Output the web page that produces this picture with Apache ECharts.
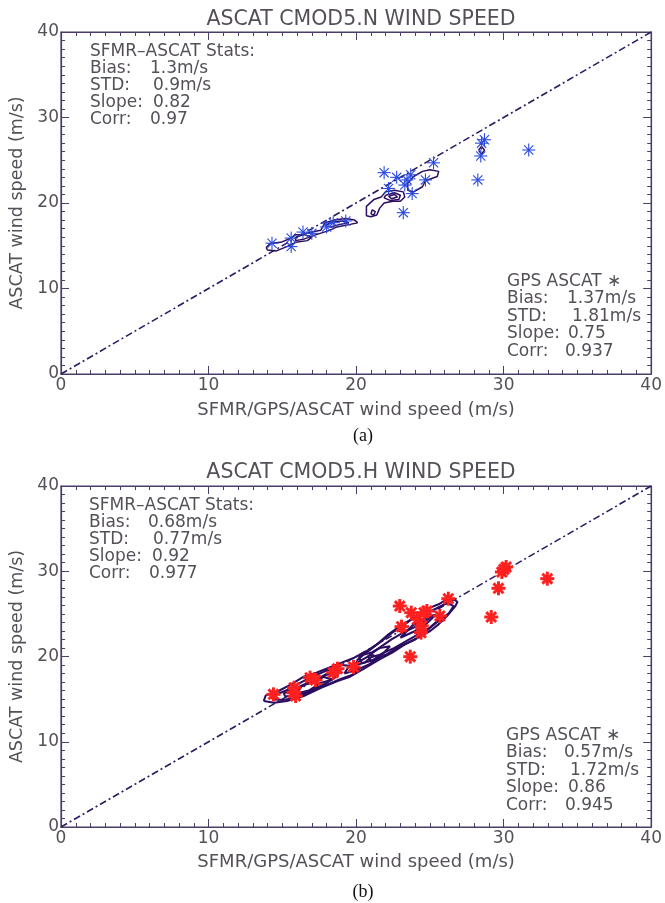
<!DOCTYPE html>
<html><head><meta charset="utf-8">
<script src="https://cdn.jsdelivr.net/npm/echarts@6/dist/echarts.min.js"></script>
<style>html,body{margin:0;padding:0;background:#fff}#c{width:665px;height:903px}</style>
</head><body><div id="c"></div>
<script>
// ---- data ----
const titles = ['ASCAT CMOD5.N WIND SPEED', 'ASCAT CMOD5.H WIND SPEED'];
const xAxisName = 'SFMR/GPS/ASCAT wind speed (m/s)';
const yAxisName = 'ASCAT wind speed (m/s)';
const captions = ['(a)', '(b)'];
const axisMin = 0, axisMax = 40, axisStep = 10;
const oneToOne = [[0, 0], [40, 40]];

const gpsStarsN = [[14.3,15.3],[15.6,14.9],[15.6,15.9],[16.4,16.6],[17.0,16.45],[18.0,17.2],[18.45,17.7],[19.3,17.9],
  [21.9,23.55],[22.2,21.7],[22.75,23.0],[23.2,18.87],[23.45,22.7],[23.7,23.3],[23.8,21.1],[23.3,22.1],[24.7,22.7],
  [25.25,24.7],[28.25,22.7],[28.45,25.5],[28.5,27.0],[28.7,27.4],[31.7,26.2]];
const gpsStarsH = [[14.4,15.56],[15.75,15.76],[15.8,16.34],[15.9,15.37],[16.88,17.52],[17.25,17.24],[18.45,18.1],
  [18.74,18.57],[19.83,18.77],[22.96,25.92],[23.08,23.5],[23.67,19.98],[23.74,25.14],[24.17,24.36],[24.4,22.8],
  [24.45,23.58],[24.6,25.14],[24.8,25.34],[25.68,24.75],[26.25,26.78],[29.16,24.63],[29.65,28.0],[29.88,29.91],
  [30.02,30.22],[30.17,30.5],[32.96,29.13]];

const contoursN = [
  [[13.9,14.8],[14.2,15.3],[14.9,15.4],[15.6,15.9],[15.9,16.3],[16.5,16.3],[17.0,16.0],[16.7,15.6],[15.9,15.4],[15.3,14.9],[14.6,14.4],[14.0,14.5]],
  [[15.9,16.0],[16.7,16.5],[17.6,16.8],[17.9,17.7],[18.5,18.0],[19.3,18.2],[19.9,18.0],[20.1,17.7],[19.6,17.5],[18.7,17.2],[18.2,16.8],[17.3,16.3],[16.5,15.8],[15.9,15.6]],
  [[17.9,17.4],[18.5,17.8],[19.2,17.9],[19.5,17.7],[18.9,17.5],[18.3,17.2]],
  [[20.7,18.8],[20.7,19.6],[21.2,20.4],[21.7,20.7],[22.0,21.3],[22.6,21.5],[23.2,21.3],[23.3,20.7],[23.0,20.2],[22.5,20.2],[21.9,20.0],[21.6,19.4],[21.4,18.6],[21.0,18.4],[20.7,18.5]],
  [[21.0,18.7],[21.1,19.2],[21.3,19.0],[21.2,18.6]],
  [[22.0,20.9],[22.6,21.2],[23.0,20.9],[22.9,20.4],[22.3,20.3],[21.9,20.6]],
  [[22.2,20.8],[22.6,21.0],[22.8,20.7],[22.4,20.5]],
  [[23.9,23.1],[24.5,23.7],[25.0,23.9],[25.6,23.7],[25.5,23.1],[24.7,22.6],[24.5,21.9],[23.9,21.3],[23.5,21.5],[23.5,22.3]],
  [[28.3,26.2],[28.5,26.6],[28.7,26.2],[28.5,25.7]]
];
const contoursH = [
  [[13.74,14.78],[14.45,14.58],[15.31,14.78],[16.45,15.37],[17.59,16.3],[18.74,17.13],[19.59,17.63],[20.45,18.5],[21.59,19.67],
   [22.45,20.45],[23.31,21.43],[24.17,22.2],[25.02,22.99],[25.59,23.77],[26.16,24.75],[26.73,25.92],[26.87,26.39],
   [26.59,26.78],[26.16,26.71],[25.59,26.12],[24.73,25.53],[24.17,24.95],[23.31,23.77],[22.45,22.8],[21.59,21.63],
   [20.74,20.65],[19.88,19.86],[19.02,19.28],[18.16,18.69],[17.31,18.1],[16.45,17.63],[15.6,16.73],[14.74,15.95],[13.88,15.44]],
  [[14.3,15.0],[15.0,14.9],[15.8,15.1],[16.6,15.6],[17.4,16.4],[18.2,16.8],[19.0,17.4],[19.8,17.9],[20.2,18.6],[19.6,18.9],
   [19.0,19.0],[18.4,18.6],[17.8,18.2],[17.0,17.6],[16.3,17.0],[15.5,16.2],[14.8,15.7],[14.4,15.4]],
  [[20.4,19.2],[21.2,19.6],[21.8,20.4],[22.6,21.0],[23.4,21.8],[24.2,22.6],[24.9,23.2],[25.6,24.2],[26.3,25.1],[26.6,25.9],
   [26.2,26.3],[25.4,25.6],[24.6,25.0],[23.8,24.4],[23.0,23.6],[22.2,22.6],[21.4,21.4],[20.8,20.6],[20.2,19.9]],
  [[15.2,15.3],[16.0,15.4],[17.0,16.0],[18.0,16.9],[18.8,17.8],[18.2,18.0],[17.4,17.4],[16.6,16.8],[15.8,16.2],[15.1,15.7]],
  [[21.0,19.5],[22.0,20.2],[23.0,21.2],[24.0,22.0],[25.0,23.4],[25.8,24.6],[25.2,24.8],[24.4,23.8],[23.4,23.0],[22.4,22.0],[21.4,20.8],[20.8,20.0]],
  [[19.2,18.0],[20.0,18.4],[20.8,19.0],[21.6,19.9],[21.0,20.2],[20.2,19.4],[19.5,18.8]],
  [[23.0,22.2],[24.0,23.0],[24.8,23.9],[25.4,24.9],[24.8,24.6],[23.8,23.6]],
  [[20.0,19.0],[20.6,19.3],[21.0,19.9],[21.8,20.3],[22.3,21.2],[21.6,21.0],[21.1,20.5],[20.5,20.2],[20.1,19.6]],
  [[16.0,15.7],[16.8,16.0],[17.6,16.9],[18.4,17.3],[17.8,17.6],[17.0,17.0],[16.3,16.5]]
];

const statLabels = ['Bias:', 'STD:', 'Slope:', 'Corr:'];
const sfmrStatsN = ['1.3m/s', '0.9m/s', '0.82', '0.97'];
const gpsStatsN = ['1.37m/s', '1.81m/s', '0.75', '0.937'];
const sfmrStatsH = ['0.68m/s', '0.77m/s', '0.92', '0.977'];
const gpsStatsH = ['0.57m/s', '1.72m/s', '0.86', '0.945'];
const sfmrHeader = 'SFMR\u2013ASCAT Stats:';
const gpsHeader = 'GPS ASCAT \u2217';

// ---- styles ----
const FONT = 'DejaVu Sans';
const TXT = '#555058';
const AX = '#4a3e68';
const LINEC = '#2e1a62';
const CONT = '#2c0e60';

const chart = echarts.init(document.getElementById('c'));
const grids = [
  {left: 61, top: 32, width: 594, height: 342, show: true, borderColor: AX, borderWidth: 1.2, backgroundColor: 'transparent'},
  {left: 61, top: 486, width: 594, height: 341, show: true, borderColor: AX, borderWidth: 1.2, backgroundColor: 'transparent'}
];

function mkAxis(kind, gi, pos, labels, nameGap) {
  const a = {
    type: 'value', gridIndex: gi, position: pos, min: axisMin, max: axisMax, interval: axisStep,
    axisLine: {show: true, onZero: false, lineStyle: {color: AX, width: 1.2}},
    axisTick: {show: true, inside: true, length: 8, lineStyle: {color: AX, width: 1}},
    minorTick: {show: true, splitNumber: 10, length: 4, lineStyle: {color: AX, width: 1}},
    splitLine: {show: false},
    axisLabel: {show: labels, color: TXT, fontFamily: FONT, fontSize: 17, margin: kind === 'x' ? 3 : 2}
  };
  if (labels) {
    a.name = kind === 'x' ? xAxisName : yAxisName;
    a.nameLocation = 'middle';
    a.nameGap = nameGap;
    a.nameTextStyle = {color: TXT, fontFamily: FONT, fontSize: kind === 'x' ? 18 : 17.5};
  }
  return a;
}

function starSeries(data, color, r, lw, xi, yi) {
  return {
    type: 'custom', xAxisIndex: xi, yAxisIndex: yi, data: data, z: 5,
    encode: {x: 0, y: 1},
    renderItem: function (params, api) {
      const p = api.coord([api.value(0), api.value(1)]);
      const d = r * 0.7071;
      const segs = [[-r, 0, r, 0], [0, -r, 0, r], [-d, -d, d, d], [-d, d, d, -d]];
      return {type: 'group', children: segs.map(s => ({
        type: 'line',
        shape: {x1: p[0] + s[0], y1: p[1] + s[1], x2: p[0] + s[2], y2: p[1] + s[3]},
        style: {stroke: color, lineWidth: lw}
      }))};
    }
  };
}

function contourSeries(list, width, xi, yi) {
  return list.map(poly => ({
    type: 'line', xAxisIndex: xi, yAxisIndex: yi, data: poly.concat([poly[0]]),
    showSymbol: false, symbol: 'none', smooth: false, z: 3, silent: true,
    lineStyle: {color: CONT, width: width}
  }));
}

function diag(xi, yi) {
  return {type: 'line', xAxisIndex: xi, yAxisIndex: yi, data: oneToOne, showSymbol: false, symbol: 'none', z: 2,
    lineStyle: {color: LINEC, width: 1.6, type: [7, 3, 2, 3]}};
}

function statText(x, y, header, values, valX, lineH) {
  const f = '17px "' + FONT + '"';
  const els = [{type: 'text', left: x, top: y, style: {text: header, fill: TXT, font: f}}];
  statLabels.forEach((lab, i) => {
    els.push({type: 'text', left: x, top: y + lineH * (i + 1), style: {text: lab, fill: TXT, font: f}});
    els.push({type: 'text', left: valX[i], top: y + lineH * (i + 1), style: {text: values[i], fill: TXT, font: f}});
  });
  return els;
}

const titleStyle = {color: TXT, fontFamily: FONT, fontWeight: 'normal', fontSize: 20.5};
const capStyle = {color: '#111', fontFamily: 'Liberation Serif', fontWeight: 'normal', fontSize: 18};
const option = {
  animation: false,
  backgroundColor: '#fff',
  title: [
    {text: titles[0], left: 356, top: 4, textAlign: 'center', textStyle: titleStyle},
    {text: titles[1], left: 356, top: 457, textAlign: 'center', textStyle: titleStyle},
    {text: captions[0], left: 358, top: 422, textAlign: 'center', textStyle: capStyle},
    {text: captions[1], left: 358, top: 878, textAlign: 'center', textStyle: capStyle}
  ],
  grid: grids,
  xAxis: [mkAxis('x', 0, 'bottom', true, 27), mkAxis('x', 0, 'top', false), mkAxis('x', 1, 'bottom', true, 26), mkAxis('x', 1, 'top', false)],
  yAxis: [mkAxis('y', 0, 'left', true, 31), mkAxis('y', 0, 'right', false), mkAxis('y', 1, 'left', true, 31), mkAxis('y', 1, 'right', false)],
  series: [
    diag(1, 1),
    ...contourSeries(contoursN, 1.5, 0, 0),
    starSeries(gpsStarsN, '#2a4ae0', 6.5, 1.1, 0, 0),
    diag(3, 3),
    ...contourSeries(contoursH, 2.1, 2, 2),
    starSeries(gpsStarsH, '#ff2020', 7, 3, 2, 2)
  ],
  graphic: [
    ...statText(90, 43, sfmrHeader, sfmrStatsN, [150, 153, 153, 150], 17),
    ...statText(507, 273, gpsHeader, gpsStatsN, [567, 572, 568, 565], 17.5),
    ...statText(89, 497, sfmrHeader, sfmrStatsH, [148, 153, 152, 149], 17),
    ...statText(506, 727, gpsHeader, gpsStatsH, [564, 570, 568, 565], 17.5)
  ]
};
chart.setOption(option);
</script>
</body></html>
